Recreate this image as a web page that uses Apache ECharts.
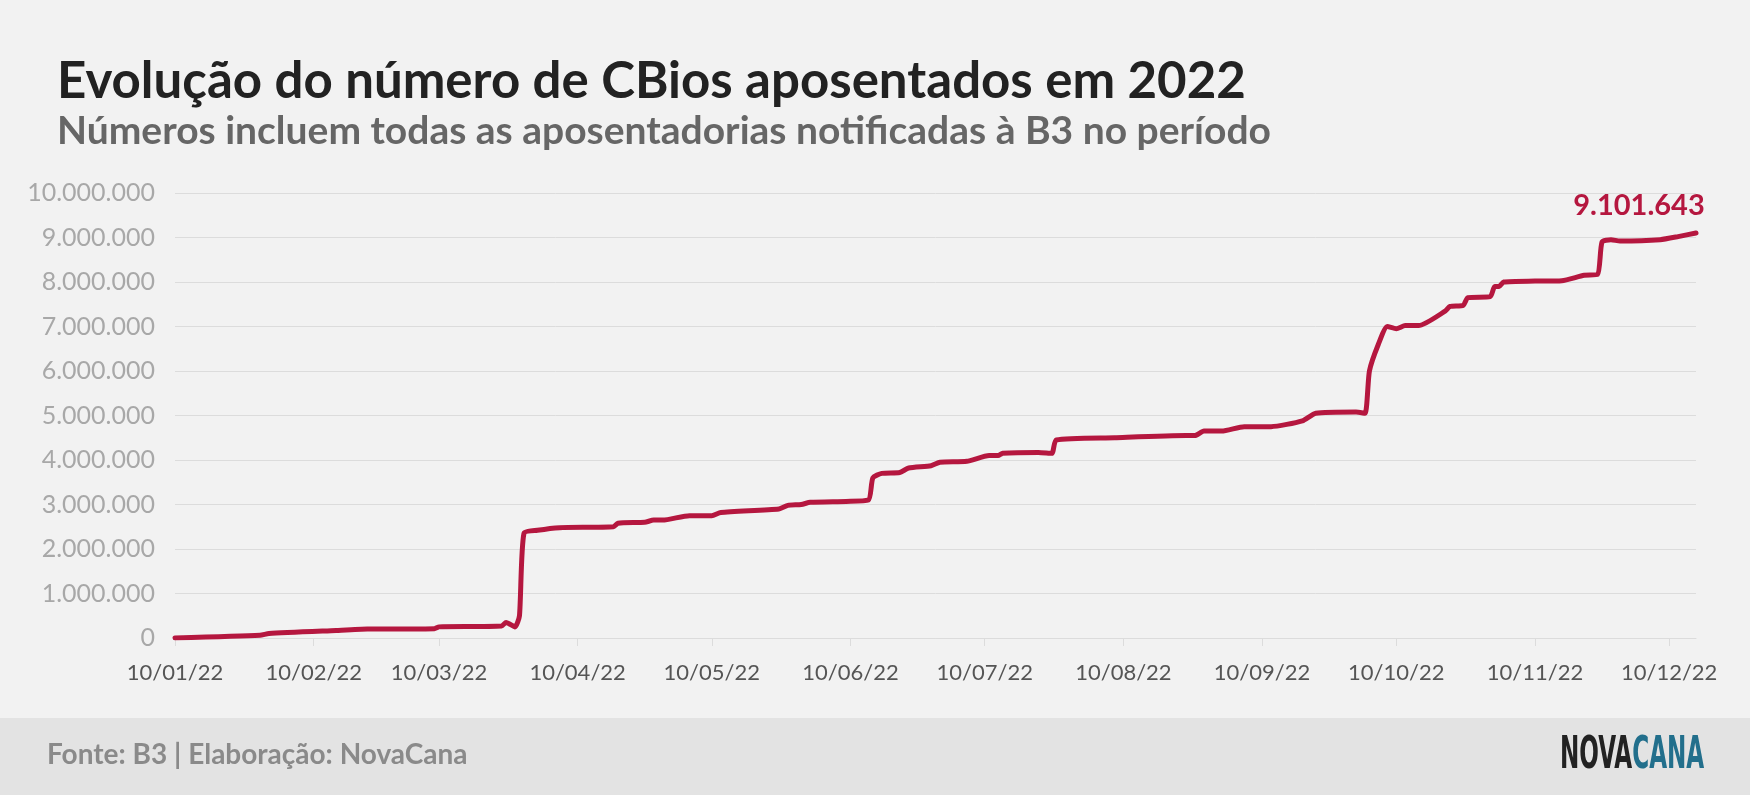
<!DOCTYPE html>
<html><head><meta charset="utf-8">
<script src="https://cdn.jsdelivr.net/npm/echarts@6/dist/echarts.min.js"></script>
<style>html,body{margin:0;padding:0;background:#f2f2f2}#c{width:1750px;height:795px}</style>
</head><body><div id="c"></div>
<script>
const title = 'Evolução do número de CBios aposentados em 2022';
const subtitle = 'Números incluem todas as aposentadorias notificadas à B3 no período';
const source = 'Fonte: B3 | Elaboração: NovaCana';
const startDate = [2022, 0, 10];
const dayCount = 341;
// day offsets from 10/01/22 and cumulative retired CBios
const dayOffsets = [0,19,21,36,43,58,59,73,74,76,77,78,81,86,98,99,105,107,109,115,120,122,135,137,140,142,150,155,156,158,162,164,169,171,177,182,184,185,193,196,197,210,226,228,230,234,239,245,252,255,264,266,267,269,271,273,275,278,284,285,288,289,294,295,296,297,304,310,315,318,319,321,323,332,336,340];
const values = [0,60000,100000,170000,200000,210000,250000,270000,350000,250000,500000,2350000,2420000,2480000,2500000,2580000,2600000,2650000,2650000,2750000,2750000,2820000,2900000,2980000,3000000,3050000,3070000,3100000,3600000,3700000,3720000,3820000,3870000,3950000,3970000,4100000,4100000,4150000,4170000,4150000,4450000,4500000,4550000,4550000,4650000,4650000,4750000,4750000,4880000,5050000,5080000,5050000,6000000,6600000,7000000,6950000,7020000,7020000,7350000,7450000,7480000,7650000,7670000,7900000,7900000,8000000,8020000,8030000,8150000,8170000,8900000,8950000,8920000,8950000,9020000,9101643];

const pad = n => String(n).padStart(2,'0');
const categories = [];
for (let i = 0; i < dayCount; i++) {
  const d = new Date(startDate[0], startDate[1], startDate[2] + i);
  categories.push(pad(d.getDate()) + '/' + pad(d.getMonth()+1) + '/' + String(d.getFullYear()).slice(2));
}
const seriesData = new Array(dayCount).fill(null);
dayOffsets.forEach((o, i) => { seriesData[o] = values[i]; });
const lastIdx = dayOffsets[dayOffsets.length-1];
const lastVal = values[values.length-1];
const fmt = v => String(v).replace(/\B(?=(\d{3})+(?!\d))/g, '.');
const isTick = (i, v) => v.startsWith('10/');

const chart = echarts.init(document.getElementById('c'));
chart.setOption({
  backgroundColor: '#f2f2f2',
  animation: false,
  graphic: [
    {type:'rect', shape:{x:0,y:718,width:1750,height:77}, style:{fill:'#e3e3e3'}},
    {type:'text', left:57, top:56, style:{text:title, font:'bold 51px Lato', fill:'#222'}},
    {type:'text', left:57, top:112, style:{text:subtitle, font:'bold 39px Lato', fill:'#666'}},
    {type:'text', left:47, top:741, style:{text:source, font:'bold 28px Lato', fill:'#8a8a8a'}},
    {type:'text', x:1560, y:734, scaleX:0.57, style:{
      text:'{a|NOVA}{b|CANA}',
      rich:{a:{fontFamily:'DejaVu Sans Condensed', fontWeight:'bold', fontSize:45, fill:'#222'},
            b:{fontFamily:'DejaVu Sans Condensed', fontWeight:'bold', fontSize:45, fill:'#226f8c'}}}}
  ],
  grid: {left:175, right:54, top:193, bottom:157},
  xAxis: {
    type:'category', data:categories, boundaryGap:false,
    axisLine:{lineStyle:{color:'#dcdcdc'}},
    axisTick:{interval:isTick, length:8, lineStyle:{color:'#dcdcdc'}},
    axisLabel:{interval:isTick, color:'#555', fontFamily:'Lato', fontSize:22, margin:24}
  },
  yAxis: {
    type:'value', min:0, max:10000000, interval:1000000,
    axisLabel:{formatter:fmt, color:'#a8a8a8', fontFamily:'Lato', fontSize:25, margin:20},
    splitLine:{lineStyle:{color:'#dcdcdc', width:1}},
    axisLine:{show:false}, axisTick:{show:false}
  },
  series: [{
    type:'line', data:seriesData, connectNulls:true, showSymbol:false, smooth:0.2,
    lineStyle:{color:'#b5173f', width:5, cap:'round', join:'round'},
    itemStyle:{color:'#b5173f'},
    markPoint:{symbol:'circle', symbolSize:0,
      data:[{coord:[lastIdx, lastVal], value:lastVal}],
      label:{show:true, position:'top', offset:[-57,-8], formatter:p => fmt(p.value),
        color:'#b5173f', fontFamily:'Lato', fontWeight:'bold', fontSize:29}}
  }]
});
</script></body></html>
